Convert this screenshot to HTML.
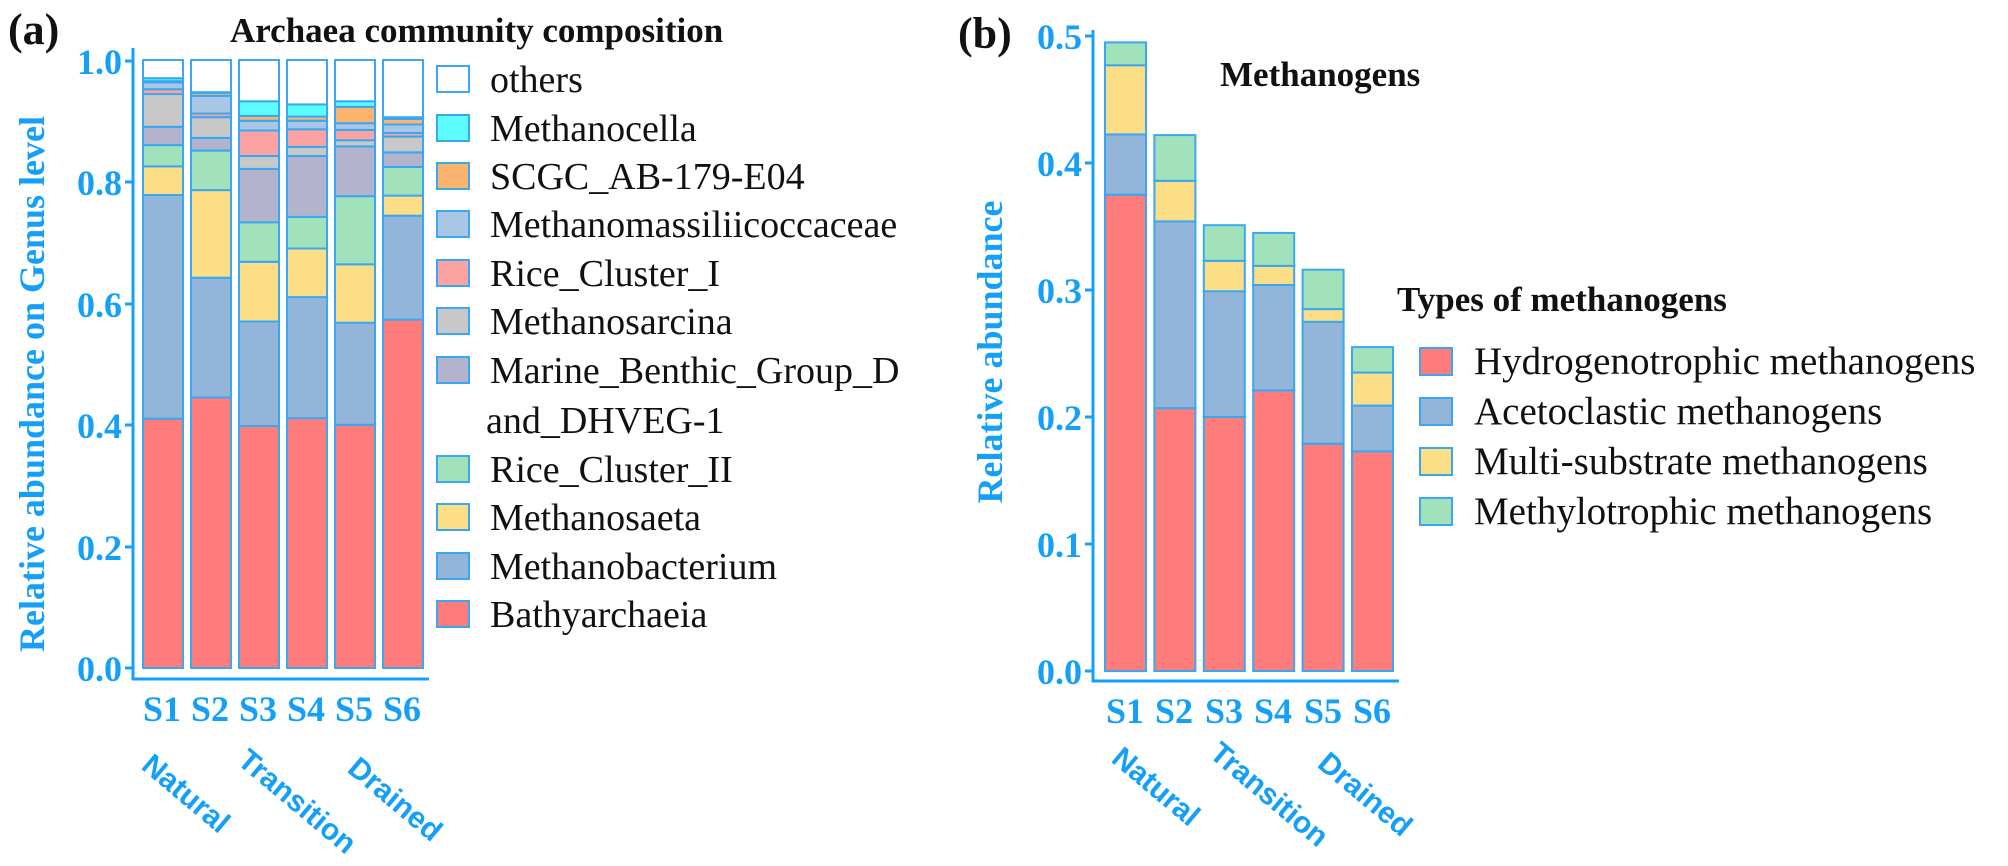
<!DOCTYPE html>
<html><head><meta charset="utf-8"><style>
html,body{margin:0;padding:0;background:#fff;}
svg{display:block;}
.tk{font-family:"Liberation Serif",serif;font-weight:bold;font-size:36px;fill:#14a0f8;}
.lg{font-family:"Liberation Serif",serif;font-size:38px;fill:#111;}
.lgb{font-family:"Liberation Serif",serif;font-size:39px;fill:#111;}
.ttl{font-family:"Liberation Serif",serif;font-weight:bold;font-size:35px;fill:#111;}
.grp{font-family:"Liberation Sans",sans-serif;font-weight:bold;font-size:30px;fill:#14a0f8;}
</style></head><body>
<svg id="s" width="2008" height="866" xmlns="http://www.w3.org/2000/svg">
<rect width="2008" height="866" fill="#fff"/>
<text x="8" y="44" font-family="Liberation Serif" font-weight="bold" font-size="44" fill="#111">(a)</text>
<text x="958" y="48" font-family="Liberation Serif" font-weight="bold" font-size="44" fill="#111">(b)</text>
<text class="ttl" x="230" y="42">Archaea community composition</text>
<text class="ttl" x="1220" y="86">Methanogens</text>
<text class="ttl" x="1397" y="311">Types of methanogens</text>
<g stroke="#14a0f8" stroke-width="3" fill="none">
<line x1="133" y1="48" x2="133" y2="680"/><line x1="132" y1="679" x2="429" y2="679"/>
<line x1="125" y1="668" x2="133" y2="668"/><line x1="125" y1="547" x2="133" y2="547"/><line x1="125" y1="425" x2="133" y2="425"/><line x1="125" y1="304" x2="133" y2="304"/><line x1="125" y1="182" x2="133" y2="182"/><line x1="125" y1="61" x2="133" y2="61"/>
<line x1="1093" y1="30" x2="1093" y2="682"/><line x1="1092" y1="681" x2="1399" y2="681"/>
<line x1="1085" y1="671" x2="1093" y2="671"/><line x1="1085" y1="544" x2="1093" y2="544"/><line x1="1085" y1="417" x2="1093" y2="417"/><line x1="1085" y1="290" x2="1093" y2="290"/><line x1="1085" y1="163" x2="1093" y2="163"/><line x1="1085" y1="36" x2="1093" y2="36"/>
</g>
<g class="tk" text-anchor="end">
<text x="122" y="681">0.0</text><text x="122" y="560">0.2</text><text x="122" y="438">0.4</text><text x="122" y="317">0.6</text><text x="122" y="195">0.8</text><text x="122" y="74">1.0</text>
<text x="1082" y="684">0.0</text><text x="1082" y="557">0.1</text><text x="1082" y="430">0.2</text><text x="1082" y="303">0.3</text><text x="1082" y="176">0.4</text><text x="1082" y="49">0.5</text>
</g>
<text class="tk" transform="translate(44,384) rotate(-90)" text-anchor="middle">Relative abundance on Genus level</text>
<text class="tk" transform="translate(1002,352) rotate(-90)" text-anchor="middle">Relative abundance</text>
<g class="tk" text-anchor="middle">
<text x="162" y="721">S1</text><text x="210" y="721">S2</text><text x="258" y="721">S3</text><text x="306" y="721">S4</text><text x="354" y="721">S5</text><text x="402" y="721">S6</text>
<text x="1125" y="723">S1</text><text x="1174" y="723">S2</text><text x="1224" y="723">S3</text><text x="1273" y="723">S4</text><text x="1323" y="723">S5</text><text x="1372" y="723">S6</text>
</g>
<g class="grp">
<text transform="translate(140,768) rotate(40)">Natural</text>
<text transform="translate(236,763) rotate(40)">Transition</text>
<text transform="translate(346,771) rotate(40)">Drained</text>
<text transform="translate(1110,761) rotate(40)">Natural</text>
<text transform="translate(1208,756) rotate(40)">Transition</text>
<text transform="translate(1316,766) rotate(40)">Drained</text>
</g>
<g class="lg">
<text x="490" y="92">others</text>
<text x="490" y="141">Methanocella</text>
<text x="490" y="189">SCGC_AB-179-E04</text>
<text x="490" y="237">Methanomassiliicoccaceae</text>
<text x="490" y="286">Rice_Cluster_I</text>
<text x="490" y="334">Methanosarcina</text>
<text x="490" y="383">Marine_Benthic_Group_D</text>
<text x="486" y="433">and_DHVEG-1</text>
<text x="490" y="482">Rice_Cluster_II</text>
<text x="490" y="530">Methanosaeta</text>
<text x="490" y="579">Methanobacterium</text>
<text x="490" y="627">Bathyarchaeia</text>
</g>
<g class="lgb">
<text x="1474" y="374">Hydrogenotrophic methanogens</text>
<text x="1474" y="424">Acetoclastic methanogens</text>
<text x="1474" y="474">Multi-substrate methanogens</text>
<text x="1474" y="524">Methylotrophic methanogens</text>
</g>
<g id="dyn"></g>
</svg>
<script>
var C=["#fe7c7c","#93b5da","#fcde86","#a2e2ba","#b3b3cd","#c8c8c8","#fca2a2","#a9c7e5","#fbb46d","#5cfcff","#ffffff"];
var A=[[0.41,0.778,0.825,0.86,0.89,0.944,0.952,0.963,0.965,0.97,1],
[0.445,0.642,0.786,0.851,0.872,0.906,0.912,0.941,0.946,0.947,1],
[0.398,0.57,0.668,0.733,0.821,0.842,0.884,0.9,0.908,0.932,1],
[0.411,0.61,0.69,0.742,0.842,0.857,0.886,0.9,0.907,0.927,1],
[0.40,0.568,0.664,0.776,0.858,0.868,0.885,0.896,0.923,0.932,1],
[0.573,0.744,0.777,0.824,0.848,0.874,0.88,0.894,0.903,0.906,1]];
var B=[[0.375,0.4225,0.477,0.495],[0.207,0.354,0.386,0.422],[0.2,0.299,0.323,0.351],[0.221,0.304,0.319,0.345],[0.179,0.275,0.285,0.316],[0.173,0.209,0.235,0.255]];
var BC=["#fe7c7c","#93b5da","#fcde86","#a2e2ba"];
var h="";
function r(x,y,w,hh,c){h+='<rect x="'+x+'" y="'+y.toFixed(1)+'" width="'+w+'" height="'+Math.max(hh,0.5).toFixed(1)+'" fill="'+c+'" stroke="#3aa8f0" stroke-width="2"/>';}
for(var i=0;i<6;i++){var p=0;for(var j=0;j<11;j++){var v=A[i][j];var y0=668-608*p,y1=668-608*v;r(143+48*i,y1,40,y0-y1,C[j]);p=v;}}
for(var i=0;i<6;i++){var p=0;for(var j=0;j<4;j++){var v=B[i][j];var y0=671-1270*p,y1=671-1270*v;r(1105+49.4*i,y1,41,y0-y1,BC[j]);p=v;}}
var ly=[66,115,163,211,260,308,357,456,504,553,601];
var lc=[10,9,8,7,6,5,4,3,2,1,0];
for(var k=0;k<11;k++){h+='<rect x="437" y="'+ly[k]+'" width="32" height="26" fill="'+C[lc[k]]+'" stroke="#3aa8f0" stroke-width="2"/>';}
for(var k=0;k<4;k++){h+='<rect x="1420" y="'+(348+50*k)+'" width="32" height="27" fill="'+BC[k]+'" stroke="#3aa8f0" stroke-width="2"/>';}
document.getElementById("dyn").innerHTML=h;
</script>
</body></html>
